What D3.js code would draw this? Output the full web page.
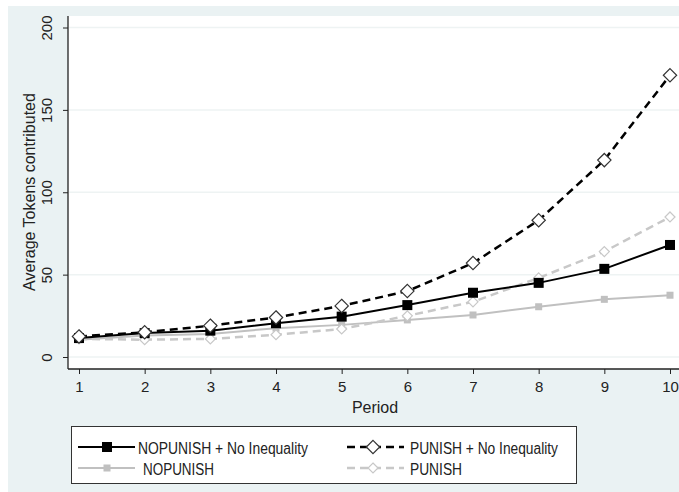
<!DOCTYPE html>
<html>
<head>
<meta charset="utf-8">
<script src="https://cdn.jsdelivr.net/npm/d3@7"></script>
<style>
  body { margin: 0; background: #ffffff; }
  svg { display: block; font-family: "Liberation Sans", Arial, sans-serif; }
</style>
</head>
<body>
<svg width="679" height="492"></svg>
<script>
// data
var periods = [1, 2, 3, 4, 5, 6, 7, 8, 9, 10];
var yTicks = [0, 50, 100, 150, 200];
var nopunishNoIneq = [11.5, 14.5, 16, 20.5, 24.5, 31.5, 39, 45, 53.5, 68];
var punishNoIneq   = [12.5, 15, 19, 24, 31, 40, 57, 83, 119.5, 171];
var nopunish       = [10.5, 13, 14, 17.5, 19.5, 22.5, 25.5, 30.5, 35, 37.5];
var punish         = [11, 10.5, 11, 13.5, 17, 25, 33.5, 48, 64, 85];
var seriesNames = ["NOPUNISH + No Inequality", "PUNISH + No Inequality", "NOPUNISH", "PUNISH"];

var svg = d3.select("svg");
var width = 679;
var height = 492;
var plot = { left: 68, top: 16, right: 679, bottom: 369 };

// series styles (colour, dash, marker)
var series = [
  { name: seriesNames[0], values: nopunishNoIneq, color: "#000000", dash: null,  width: 2,   marker: "square",  size: 10, fill: "#000000", stroke: null },
  { name: seriesNames[1], values: punishNoIneq,   color: "#000000", dash: "8,5", width: 2.5, marker: "diamond", size: 8,  fill: "#ffffff", stroke: "#333" },
  { name: seriesNames[2], values: nopunish,       color: "#c0c0c0", dash: null,  width: 2,   marker: "square",  size: 7,  fill: "#c0c0c0", stroke: null },
  { name: seriesNames[3], values: punish,         color: "#c8c8c8", dash: "8,5", width: 2.5, marker: "diamond", size: 6,  fill: "#ffffff", stroke: "#c8c8c8" }
];
var legendWidths = [170, 148, 71, 52];   // text widths measured on the picture

// background
svg.append("rect").attr("width", width).attr("height", height).attr("fill", "#ffffff");
svg.append("rect").attr("x", 8).attr("y", 6).attr("width", width - 8).attr("height", height - 6).attr("fill", "#eaf2f3");
svg.append("rect")
  .attr("x", plot.left).attr("y", plot.top)
  .attr("width", plot.right - plot.left).attr("height", plot.bottom - plot.top)
  .attr("fill", "#ffffff");

var x = d3.scaleLinear().domain([1, 10]).range([79, 670]);
var y = d3.scaleLinear().domain([0, 200]).range([357, 27.5]);

// grid lines
svg.selectAll(".grid")
  .data(yTicks)
  .enter()
  .append("line")
  .attr("x1", plot.left + 1).attr("x2", plot.right)
  .attr("y1", d => y(d)).attr("y2", d => y(d))
  .attr("stroke", "#eef3f3")
  .attr("stroke-width", 1.5);

// y axis
var yAxis = svg.append("g")
  .attr("transform", "translate(" + plot.left + ",0)")
  .call(d3.axisLeft(y).tickValues(yTicks).tickSize(5).tickSizeOuter(0).tickFormat(d3.format("d")));
yAxis.select(".domain").attr("d", "M0," + plot.top + "V" + plot.bottom).attr("stroke", "#222").attr("stroke-width", 1.3);
yAxis.selectAll(".tick line").attr("stroke", "#222");
yAxis.selectAll(".tick text")
  .attr("x", null).attr("dy", null)
  .attr("transform", "translate(-22,0) rotate(-90)")
  .attr("text-anchor", "middle")
  .attr("dominant-baseline", "central")
  .attr("font-size", "15px")
  .attr("fill", "#222");

// x axis
var xAxis = svg.append("g")
  .attr("transform", "translate(0," + plot.bottom + ")")
  .call(d3.axisBottom(x).tickValues(periods).tickSize(5).tickSizeOuter(0).tickFormat(d3.format("d")));
xAxis.select(".domain").attr("d", "M" + plot.left + ",0H" + plot.right).attr("stroke", "#222").attr("stroke-width", 1.3);
xAxis.selectAll(".tick line").attr("stroke", "#222");
xAxis.selectAll(".tick text")
  .attr("y", 12).attr("dy", "0.71em")
  .attr("font-size", "15px")
  .attr("fill", "#222");

// axis titles
svg.append("text")
  .attr("transform", "translate(29,192) rotate(-90)")
  .attr("text-anchor", "middle")
  .attr("dominant-baseline", "central")
  .attr("font-size", "16px")
  .attr("fill", "#222")
  .text("Average Tokens contributed");

svg.append("text")
  .attr("x", 375)
  .attr("y", 413)
  .attr("text-anchor", "middle")
  .attr("font-size", "16px")
  .attr("fill", "#222")
  .text("Period");

// marker helper
function drawMarker(g, type, cx, cy, s, fill, stroke) {
  if (type === "square") {
    g.append("rect")
      .attr("x", cx - s / 2).attr("y", cy - s / 2)
      .attr("width", s).attr("height", s)
      .attr("fill", fill);
  } else {
    g.append("path")
      .attr("d", "M" + cx + "," + (cy - s / 1.2) + "L" + (cx + s / 1.2) + "," + cy +
                 "L" + cx + "," + (cy + s / 1.2) + "L" + (cx - s / 1.2) + "," + cy + "Z")
      .attr("fill", fill)
      .attr("stroke", stroke)
      .attr("stroke-width", 1.2);
  }
}

var line = d3.line()
  .x((d, i) => x(periods[i]))
  .y(d => y(d));

// draw series: gray ones first, then black
var order = [2, 3, 0, 1];
order.forEach(function(k) {
  var s = series[k];
  var g = svg.append("g");
  g.append("path")
    .datum(s.values)
    .attr("d", line)
    .attr("fill", "none")
    .attr("stroke", s.color)
    .attr("stroke-width", s.width)
    .attr("stroke-dasharray", s.dash);
  s.values.forEach(function(v, i) {
    drawMarker(g, s.marker, x(periods[i]), y(v), s.size, s.fill, s.stroke);
  });
});

// legend
var legend = svg.append("g");
legend.append("rect")
  .attr("x", 71.5).attr("y", 426.5)
  .attr("width", 505).attr("height", 57)
  .attr("fill", "#ffffff")
  .attr("stroke", "#333")
  .attr("stroke-width", 1);

var legendPos = [
  { lx: 78,  tx: 138, y: 447 },
  { lx: 347, tx: 410, y: 447 },
  { lx: 78,  tx: 143, y: 468 },
  { lx: 347, tx: 410, y: 468 }
];

series.forEach(function(s, i) {
  var p = legendPos[i];
  legend.append("line")
    .attr("x1", p.lx).attr("x2", p.lx + 57)
    .attr("y1", p.y).attr("y2", p.y)
    .attr("stroke", s.color)
    .attr("stroke-width", s.width)
    .attr("stroke-dasharray", s.dash);
  drawMarker(legend, s.marker, p.lx + (s.marker === "square" ? 29 : 26), p.y, s.size, s.fill, s.stroke);
  legend.append("text")
    .attr("x", p.tx)
    .attr("y", p.y + 1)
    .attr("dominant-baseline", "central")
    .attr("font-size", "16px")
    .attr("textLength", legendWidths[i])
    .attr("lengthAdjust", "spacingAndGlyphs")
    .attr("fill", "#222")
    .text(s.name);
});
</script>
</body>
</html>
